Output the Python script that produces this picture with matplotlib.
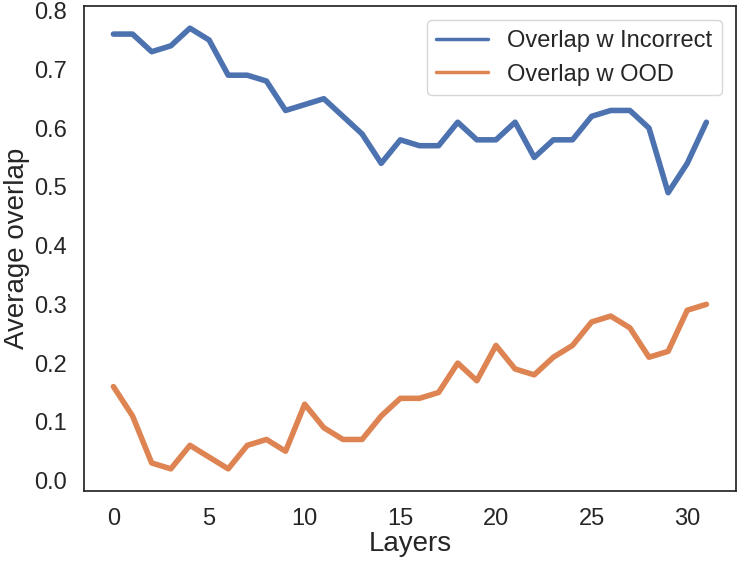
import numpy as np
import matplotlib
matplotlib.use('Agg')
import matplotlib.pyplot as plt
import seaborn as sns

# per-layer overlap values
layers = np.arange(32)
overlap_incorrect = [0.76, 0.76, 0.73, 0.74, 0.77, 0.75, 0.69, 0.69, 0.68, 0.63,
                     0.64, 0.65, 0.62, 0.59, 0.54, 0.58, 0.57, 0.57, 0.61, 0.58,
                     0.58, 0.61, 0.55, 0.58, 0.58, 0.62, 0.63, 0.63, 0.60, 0.49,
                     0.54, 0.61]
overlap_ood = [0.16, 0.11, 0.03, 0.02, 0.06, 0.04, 0.02, 0.06, 0.07, 0.05,
               0.13, 0.09, 0.07, 0.07, 0.11, 0.14, 0.14, 0.15, 0.20, 0.17,
               0.23, 0.19, 0.18, 0.21, 0.23, 0.27, 0.28, 0.26, 0.21, 0.22,
               0.29, 0.30]

sns.set_theme(style='white', palette='deep')
plt.rcParams['font.family'] = ['Liberation Sans', 'DejaVu Sans']

fig = plt.figure(figsize=(7.48, 5.61), dpi=100)
ax = fig.add_axes([0.112, 0.125, 0.872, 0.864])
ax.plot(layers, overlap_incorrect, lw=4, label='Overlap w Incorrect')
ax.plot(layers, overlap_ood, lw=4, label='Overlap w OOD')
ax.set_xlabel('Layers', fontsize=20, labelpad=1)
ax.set_ylabel('Average overlap', fontsize=20, labelpad=3)
ax.tick_params(labelsize=17, pad=6)
ax.set_yticks(np.arange(0, 0.81, 0.1))
for s in ax.spines.values():
    s.set_color('0.15')
leg = ax.legend(loc='upper right', fontsize=17, handlelength=2.2,
                borderaxespad=0.6)
for h in leg.get_lines():
    h.set_linewidth(2.5)
fig.savefig('out.png')
